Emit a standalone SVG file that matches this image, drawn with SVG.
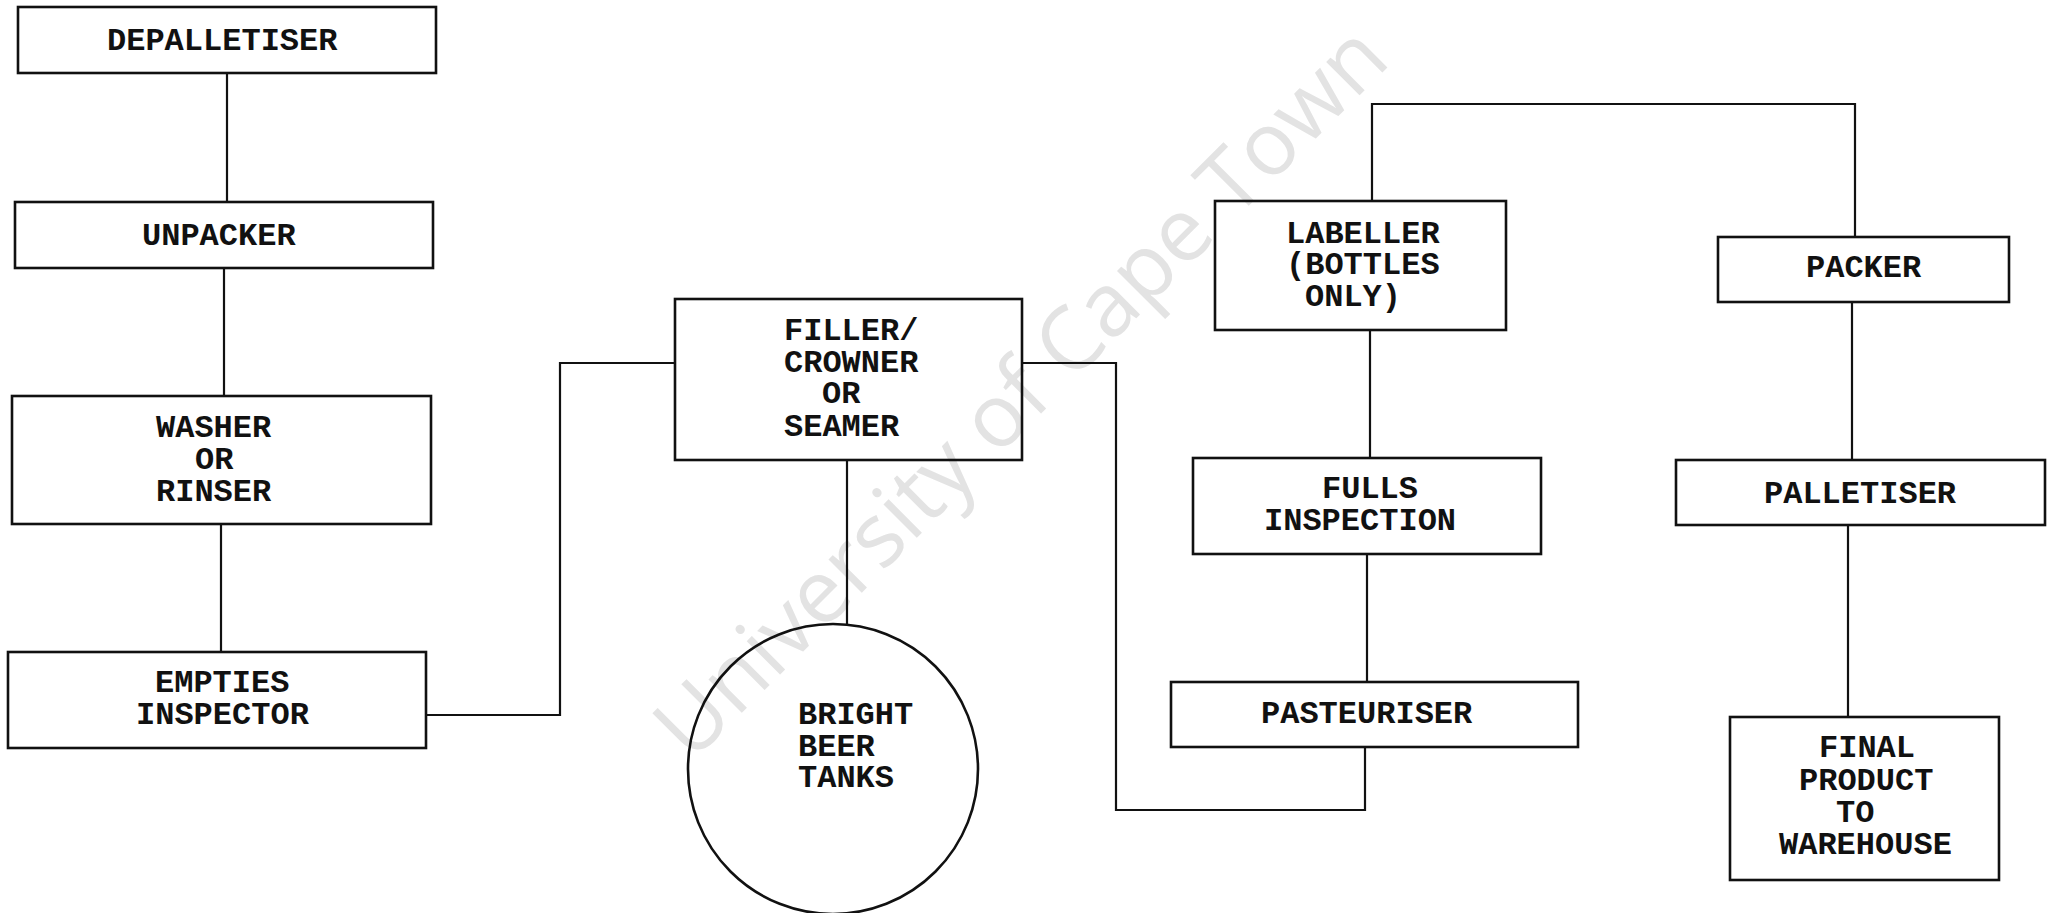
<svg xmlns="http://www.w3.org/2000/svg" width="2054" height="913" viewBox="0 0 2054 913">
<style>
.box{fill:none;stroke:#111;stroke-width:2.6}
.ln{fill:none;stroke:#111;stroke-width:2.2}
.t{font-family:"Liberation Mono","Courier New",monospace;font-weight:bold;font-size:32px;fill:#111}
.wm{font-family:"Open Sans","Liberation Sans",sans-serif;font-size:88px;fill:#e3e3e3}
</style>
<rect width="2054" height="913" fill="#fff"/>
<text class="wm" x="1022" y="421" text-anchor="middle" transform="rotate(-45 1022 393)">University of Cape Town</text>
<g id="connectors">
<polyline class="ln" points="227,73 227,202"/>
<polyline class="ln" points="224,268 224,396"/>
<polyline class="ln" points="221,524 221,652"/>
<polyline class="ln" points="426,715 560,715 560,363 675,363"/>
<polyline class="ln" points="847,460 847,624"/>
<polyline class="ln" points="1022,363 1116,363 1116,810 1365,810 1365,747"/>
<polyline class="ln" points="1367,554 1367,682"/>
<polyline class="ln" points="1370,330 1370,458"/>
<polyline class="ln" points="1372,201 1372,104 1855,104 1855,237"/>
<polyline class="ln" points="1852,302 1852,460"/>
<polyline class="ln" points="1848,525 1848,717"/>
</g>
<g id="depalletiser"><rect class="box" x="18" y="7" width="418" height="66"/><text class="t" x="107" y="50">DEPALLETISER</text></g>
<g id="unpacker"><rect class="box" x="15" y="202" width="418" height="66"/><text class="t" x="142" y="245">UNPACKER</text></g>
<g id="washer"><rect class="box" x="12" y="396" width="419" height="128"/><text class="t" x="156" y="437">WASHER</text><text class="t" x="195" y="469">OR</text><text class="t" x="156" y="501">RINSER</text></g>
<g id="empties"><rect class="box" x="8" y="652" width="418" height="96"/><text class="t" x="155" y="692">EMPTIES</text><text class="t" x="136" y="724">INSPECTOR</text></g>
<g id="filler"><rect class="box" x="675" y="299" width="347" height="161"/><text class="t" x="784" y="340">FILLER/</text><text class="t" x="784" y="372">CROWNER</text><text class="t" x="822" y="403">OR</text><text class="t" x="784" y="436">SEAMER</text></g>
<g id="bright-beer-tanks"><circle class="box" cx="833" cy="769" r="145"/><text class="t" x="798" y="724">BRIGHT</text><text class="t" x="798" y="756">BEER</text><text class="t" x="798" y="787">TANKS</text></g>
<g id="labeller"><rect class="box" x="1215" y="201" width="291" height="129"/><text class="t" x="1286" y="243">LABELLER</text><text class="t" x="1286" y="274">(BOTTLES</text><text class="t" x="1305" y="306">ONLY)</text></g>
<g id="fulls"><rect class="box" x="1193" y="458" width="348" height="96"/><text class="t" x="1322" y="498">FULLS</text><text class="t" x="1264" y="530">INSPECTION</text></g>
<g id="pasteuriser"><rect class="box" x="1171" y="682" width="407" height="65"/><text class="t" x="1261" y="723">PASTEURISER</text></g>
<g id="packer"><rect class="box" x="1718" y="237" width="291" height="65"/><text class="t" x="1806" y="277">PACKER</text></g>
<g id="palletiser"><rect class="box" x="1676" y="460" width="369" height="65"/><text class="t" x="1764" y="503">PALLETISER</text></g>
<g id="final"><rect class="box" x="1730" y="717" width="269" height="163"/><text class="t" x="1819" y="757">FINAL</text><text class="t" x="1799" y="790">PRODUCT</text><text class="t" x="1836" y="822">TO</text><text class="t" x="1779" y="854">WAREHOUSE</text></g>
</svg>
